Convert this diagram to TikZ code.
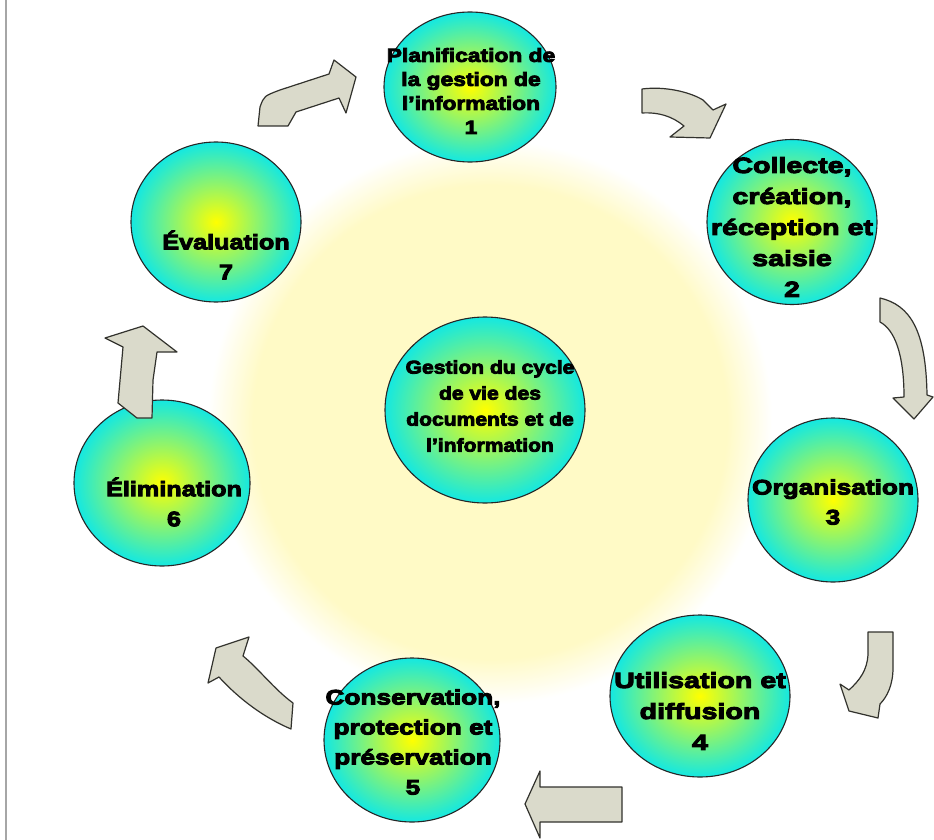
\documentclass[tikz,border=0pt]{standalone}
\usepackage{fontspec}
\usetikzlibrary{shapes.geometric}
\newfontfamily\hA{Liberation Sans}[BoldFeatures={FakeBold=4.5,FakeStretch=1.14}]
\newfontfamily\hB{Liberation Sans}[BoldFeatures={FakeBold=4.5,FakeStretch=1.2}]
\newfontfamily\hC{Liberation Sans}[BoldFeatures={FakeBold=4.5,FakeStretch=1.25}]
\newfontfamily\hD{Liberation Sans}[BoldFeatures={FakeBold=4.5,FakeStretch=1.3}]
\definecolor{glowc}{RGB}{255,250,198}
\definecolor{ballout}{RGB}{20,232,225}
\definecolor{arrfill}{RGB}{218,218,203}
\definecolor{arrline}{RGB}{50,50,45}
\pgfdeclareradialshading{glow}{\pgfpoint{0bp}{0bp}}{color(0bp)=(glowc);color(21bp)=(glowc);color(25bp)=(white);color(50bp)=(white)}
\begin{document}
\begin{tikzpicture}[x=1pt,y=-1pt,
  stage/.style={ellipse, draw=black!85, line width=1.1pt, inner sep=0pt,
    inner color=yellow, outer color=ballout},
  txt/.style args={#1/#2/#3}{align=center, inner sep=0pt,
    font=#1\bfseries\fontsize{#2}{#3}\selectfont},
  blockarrow/.style={fill=arrfill, draw=arrline, line width=1.2pt, line join=round}]
\useasboundingbox (0,0) rectangle (934,840);
\fill[white] (0,0) rectangle (934,840);
\draw[black!35, line width=1.2pt] (6,0) -- (6,840);
% background glow
\shade[shading=glow] (490,422) circle (282pt);
% stages
\node[stage, minimum width=172pt, minimum height=150pt] (c1) at (470,87) {};
\node[stage, minimum width=170pt, minimum height=165pt] (c2) at (792,222) {};
\node[stage, minimum width=170pt, minimum height=164pt] (c3) at (833,500) {};
\node[stage, minimum width=180pt, minimum height=162pt] (c4) at (700,696) {};
\node[stage, minimum width=176pt, minimum height=164pt] (c5) at (412,740) {};
\node[stage, minimum width=176pt, minimum height=166pt] (c6) at (162,483) {};
\node[stage, minimum width=170pt, minimum height=160pt] (c7) at (216,222) {};
\node[stage, minimum width=200pt, minimum height=186pt] (c0) at (485,410) {};
% texts
\node[txt=\hB/19/24] (t1) at (471,91) {Planification de\\la gestion de\\l’information\\1};
\node[txt=\hD/22/31] (t2) at (792,227) {Collecte,\\création,\\réception et\\saisie\\2};
\node[txt=\hC/21/30] (t3) at (833,502) {Organisation\\3};
\node[txt=\hD/22/31] (t4) at (700,711) {Utilisation et\\diffusion\\4};
\node[txt=\hC/21/30] (t5) at (413,742) {Conservation,\\protection et\\préservation\\5};
\node[txt=\hB/21/30] (t6) at (174,502) {Élimination\\6};
\node[txt=\hB/21/30] (t7) at (226,255) {Évaluation\\7};
\node[txt=\hA/18.5/26] (t0) at (490,406) {Gestion du cycle\\de vie des\\documents et de\\l’information};
% block arrows
% 7 -> 1
\draw[blockarrow] (258,126) -- (260,107) .. controls (264,96) .. (280,90) -- (329,74) -- (334,60) -- (356,77) -- (346,113) -- (339,98) -- (296,112) -- (288,126) -- cycle;
% 1 -> 2
\draw[blockarrow] (642,89) .. controls (665,86) and (690,92) .. (703,100) -- (713,110) -- (726,104) -- (710,138) -- (670,137) -- (684,126) .. controls (672,116) and (658,112) .. (642,113) -- cycle;
% 2 -> 3
\draw[blockarrow] (880,298) .. controls (910,305) and (926,330) .. (927,395) -- (933,397) -- (914,419) -- (893,398) -- (904,397) .. controls (904,355) and (895,330) .. (880,322) -- cycle;
% 3 -> 4
\draw[blockarrow] (868,632) -- (893,632) -- (893,668) .. controls (893,685) and (887,697) .. (880,704) -- (878,718) -- (849,711) -- (840,684) -- (849,690) .. controls (860,680) and (867,670) .. (868,655) -- cycle;
% 4 -> 5
\draw[blockarrow] (622,787) -- (622,822) -- (540,822) -- (540,838) -- (525,804) -- (540,771) -- (540,787) -- cycle;
% 5 -> 6
\draw[blockarrow] (293,703) .. controls (275,690) and (258,668) .. (243,656) -- (249,637) -- (216,648) -- (208,683) -- (219,677) .. controls (240,700) and (265,718) .. (291,729) -- cycle;
% 6 -> 7
\draw[blockarrow] (137,418) -- (118,403) -- (123,347) -- (105,338) -- (143,326) -- (177,352) -- (157,352) -- (153,380) -- (152,418) -- cycle;
\end{tikzpicture}
\end{document}
